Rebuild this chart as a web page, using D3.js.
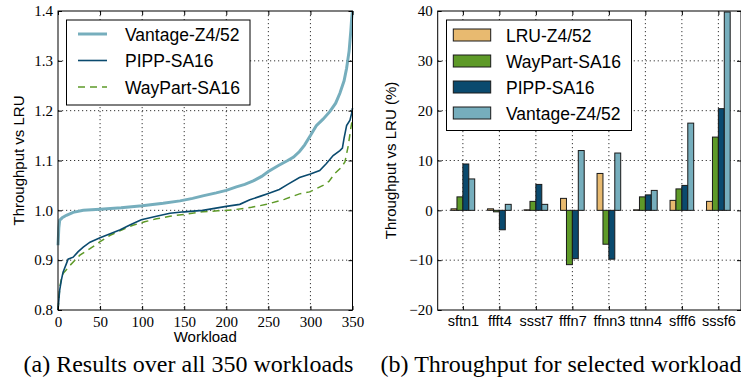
<!DOCTYPE html>
<html>
<head>
<meta charset="utf-8">
<script src="https://cdn.jsdelivr.net/npm/d3@7"></script>
<style>
  body { margin: 0; background: #fff; }
  svg { display: block; }
  .lab { font-family: "Liberation Sans", Arial, sans-serif; font-size: 15px; fill: #000; }
  .leg { font-family: "Liberation Sans", Arial, sans-serif; font-size: 17.5px; fill: #000; }
  .cap { font-family: "Liberation Serif", serif; font-size: 24px; fill: #000; }
</style>
</head>
<body>
<div id="chart"></div>
<script>
// ---- data ----
// (a) sorted per-workload throughput vs LRU, knots [workload, value]
const vantageCurve = [[0,0.93],[1,0.965],[2,0.98],[5,0.985],[10,0.99],[18,0.996],[30,1.0],[50,1.002],[75,1.005],
  [100,1.009],[125,1.014],[145,1.019],[160,1.024],[172,1.029],[188,1.035],[200,1.040],[212,1.047],[222,1.052],
  [232,1.059],[242,1.068],[250,1.078],[262,1.09],[273,1.1],[280,1.107],[287,1.118],[293,1.131],[300,1.15],
  [307,1.17],[315,1.183],[323,1.198],[330,1.215],[335,1.235],[340,1.26],[343,1.285],[346,1.32],[348,1.36],
  [349,1.385],[350,1.4]];
const pippCurve = [[0,0.80],[1,0.82],[2,0.84],[4,0.86],[6,0.876],[10,0.893],[12,0.902],[18,0.906],[24,0.917],
  [30,0.926],[38,0.936],[50,0.945],[62,0.953],[74,0.961],[86,0.971],[99,0.981],[117,0.988],[133,0.994],
  [150,0.997],[172,1.0],[200,1.008],[216,1.012],[228,1.021],[240,1.028],[250,1.034],[263,1.042],[273,1.052],
  [287,1.066],[300,1.073],[311,1.08],[319,1.094],[327,1.11],[335,1.12],[338,1.125],[340,1.145],[343,1.17],
  [347,1.181],[349,1.195],[350,1.205]];
const wayPartCurve = [[0,0.80],[1,0.82],[2,0.845],[4,0.862],[6,0.873],[14,0.889],[26,0.91],[38,0.923],[50,0.937],
  [62,0.95],[75,0.96],[89,0.97],[103,0.977],[117,0.983],[133,0.988],[150,0.992],[172,0.997],[190,0.999],
  [208,1.001],[230,1.006],[248,1.012],[269,1.022],[287,1.033],[299,1.037],[315,1.05],[322,1.058],[329,1.074],
  [336,1.085],[341,1.097],[345,1.13],[348,1.165],[350,1.185]];

// (b) throughput vs LRU (%) for selected workloads
const workloads = ["sftn1", "ffft4", "ssst7", "fffn7", "ffnn3", "ttnn4", "sfff6", "sssf6"];
const lruZ4   = [0.3, 0.3, 0.1, 2.4, 7.4, 0.1, 2.0, 1.8];
const wayPart = [2.7, -0.3, 1.8, -10.9, -6.8, 2.7, 4.3, 14.7];
const pipp    = [9.3, -3.9, 5.2, -9.7, -9.8, 3.1, 5.0, 20.4];
const vantage = [6.3, 1.2, 1.2, 12.0, 11.5, 4.0, 17.5, 39.8];

const xTicksA = [0, 50, 100, 150, 200, 250, 300, 350];
const yTicksA = [0.8, 0.9, 1.0, 1.1, 1.2, 1.3, 1.4];
const yTicksB = [-20, -10, 0, 10, 20, 30, 40];

const colors = {lru: "#e8ba70", way: "#5e9a28", pipp: "#0a4a6e", vant: "#76aebd"};

const W = 741, H = 382;
const svg = d3.select("#chart").append("svg").attr("width", W).attr("height", H);

const plotTop = 11, plotBottom = 310;

function frame(g, x0, x1) {
  g.append("rect").attr("x", x0).attr("y", plotTop).attr("width", x1 - x0).attr("height", plotBottom - plotTop)
    .attr("fill", "none").attr("stroke", "#000").attr("stroke-width", 1);
}
function grid(g, xs, ys, x, y) {
  const d = "1.2,2.8";
  g.selectAll(".gx").data(xs).join("line")
    .attr("x1", v => x(v)).attr("x2", v => x(v)).attr("y1", plotTop).attr("y2", plotBottom)
    .attr("stroke", "#000").attr("stroke-width", 0.8).attr("stroke-dasharray", d);
  g.selectAll(".gy").data(ys).join("line")
    .attr("x1", x.range()[0]).attr("x2", x.range()[1]).attr("y1", v => y(v)).attr("y2", v => y(v))
    .attr("stroke", "#000").attr("stroke-width", 0.8).attr("stroke-dasharray", d);
}
function axes(g, x, y, xVals, yVals, xFmt, yFmt) {
  const x0 = x.range()[0], x1 = x.range()[1];
  const bx = g.append("g").attr("transform", `translate(0,${plotBottom})`)
    .call(d3.axisBottom(x).tickValues(xVals).tickFormat(xFmt).tickSizeInner(-4).tickSizeOuter(0).tickPadding(6));
  g.append("g").attr("transform", `translate(0,${plotTop})`)
    .call(d3.axisTop(x).tickValues(xVals).tickFormat("").tickSizeInner(-4).tickSizeOuter(0));
  g.append("g").attr("transform", `translate(${x0},0)`)
    .call(d3.axisLeft(y).tickValues(yVals).tickFormat(yFmt).tickSizeInner(-4).tickSizeOuter(0).tickPadding(5));
  g.append("g").attr("transform", `translate(${x1},0)`)
    .call(d3.axisRight(y).tickValues(yVals).tickFormat("").tickSizeInner(-4).tickSizeOuter(0));
  g.selectAll(".domain").remove();
  g.selectAll(".tick line").attr("stroke", "#000");
  g.selectAll(".tick text").attr("fill", "#000")
    .style("font-family", "'Liberation Serif', serif").style("font-size", "15px");
  return bx;
}

// ---------- (a) line chart ----------
const xA = d3.scaleLinear().domain([0, 350]).range([58, 352.5]);
const yA = d3.scaleLinear().domain([0.8, 1.4]).range([plotBottom, plotTop]);
const gA = svg.append("g");
grid(gA, xTicksA.slice(1, -1), yTicksA.slice(1, -1), xA, yA);

const line = d3.line().x(d => xA(d[0])).y(d => yA(d[1]));
const series = [
  {name: "Vantage-Z4/52", data: vantageCurve, color: colors.vant, w: 3, dash: null},
  {name: "PIPP-SA16", data: pippCurve, color: colors.pipp, w: 1.6, dash: null},
  {name: "WayPart-SA16", data: wayPartCurve, color: colors.way, w: 1.5, dash: "7,5"}
];
[series[2], series[1], series[0]].forEach(s => {
  gA.append("path").datum(s.data).attr("d", line).attr("fill", "none")
    .attr("stroke", s.color).attr("stroke-width", s.w).attr("stroke-dasharray", s.dash);
});
frame(gA, 58, 352.5);
axes(gA, xA, yA, xTicksA, yTicksA, d3.format("d"), d3.format(".1f"));

// legend (a)
const legA = gA.append("g");
legA.append("rect").attr("x", 66.5).attr("y", 20).attr("width", 183.5).attr("height", 85)
  .attr("fill", "#fff").attr("stroke", "#000").attr("stroke-width", 1);
series.forEach((s, i) => {
  const yy = 34 + i * 26.5;
  legA.append("line").attr("x1", 78).attr("x2", 107).attr("y1", yy).attr("y2", yy)
    .attr("stroke", s.color).attr("stroke-width", s.w).attr("stroke-dasharray", s.dash);
  legA.append("text").attr("class", "leg").attr("x", 125).attr("y", yy + 6.5).text(s.name);
});

gA.append("text").attr("class", "lab").attr("x", xA(175)).attr("y", 342)
  .attr("text-anchor", "middle").text("Workload");
gA.append("text").attr("class", "lab").attr("transform", `translate(24,${(plotTop + plotBottom) / 2}) rotate(-90)`)
  .attr("text-anchor", "middle").text("Throughput vs LRU");

// ---------- (b) bar chart ----------
const xB = d3.scaleLinear().domain([-0.69, 7.62]).range([437.7, 741]);
const yB = d3.scaleLinear().domain([-20, 40]).range([plotBottom, plotTop]);
const gB = svg.append("g");
const idx = workloads.map((d, i) => i);
grid(gB, idx, yTicksB.slice(1, -1), xB, yB);

const barW = 0.162;
const barSeries = [
  {name: "LRU-Z4/52", vals: lruZ4, color: colors.lru},
  {name: "WayPart-SA16", vals: wayPart, color: colors.way},
  {name: "PIPP-SA16", vals: pipp, color: colors.pipp},
  {name: "Vantage-Z4/52", vals: vantage, color: colors.vant}
];
barSeries.forEach((s, k) => {
  gB.selectAll(null).data(s.vals).join("rect")
    .attr("x", (v, i) => xB(i + (k - 2) * barW))
    .attr("width", xB(barW) - xB(0))
    .attr("y", v => yB(Math.max(0, v)))
    .attr("height", v => Math.abs(yB(v) - yB(0)))
    .attr("fill", s.color).attr("stroke", "#1a1a1a").attr("stroke-width", 1);
});
frame(gB, 437.7, 741);
const bxB = axes(gB, xB, yB, idx, yTicksB, i => workloads[i], d3.format("d"));
bxB.selectAll(".tick text")
  .style("font-family", "'Liberation Sans', Arial, sans-serif").style("font-size", "14.5px");

// legend (b)
const legB = gB.append("g");
legB.append("rect").attr("x", 446.5).attr("y", 20).attr("width", 185).attr("height", 110.5)
  .attr("fill", "#fff").attr("stroke", "#000").attr("stroke-width", 1);
barSeries.forEach((s, i) => {
  const yy = 35 + i * 26;
  legB.append("rect").attr("x", 453.3).attr("y", yy - 6).attr("width", 37.4).attr("height", 12)
    .attr("fill", s.color).attr("stroke", "#1a1a1a").attr("stroke-width", 1);
  legB.append("text").attr("class", "leg").attr("x", 506).attr("y", yy + 6.5).text(s.name);
});

gB.append("text").attr("class", "lab").attr("transform", `translate(396,${(plotTop + plotBottom) / 2}) rotate(-90)`)
  .attr("text-anchor", "middle").text("Throughput vs LRU (%)");

// captions
svg.append("text").attr("class", "cap").attr("x", 188.5).attr("y", 372).attr("text-anchor", "middle")
  .text("(a) Results over all 350 workloads");
svg.append("text").attr("class", "cap").attr("x", 561).attr("y", 372).attr("text-anchor", "middle")
  .text("(b) Throughput for selected workload");
</script>
</body>
</html>
